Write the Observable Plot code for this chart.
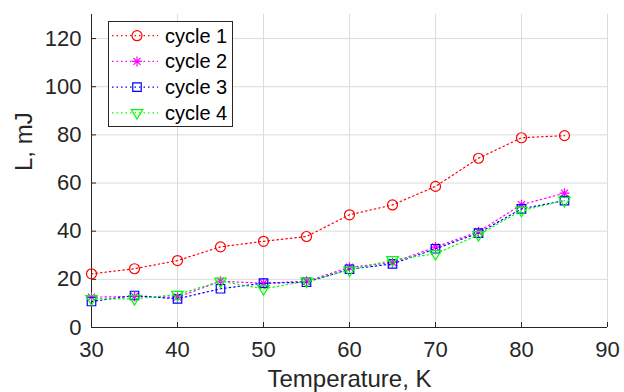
<!DOCTYPE html>
<html><head><meta charset="utf-8">
<script src="https://cdn.jsdelivr.net/npm/d3@7"></script>
<script src="https://cdn.jsdelivr.net/npm/@observablehq/plot@0.6"></script>
<style>
body{margin:0;background:#fff;}
#wrap{position:relative;width:624px;height:392px;font-family:Arial,"Liberation Sans",Helvetica,sans-serif;}
#legend{position:absolute;left:108px;top:21px;}
</style></head><body><div id="wrap"></div>
<script>
const temps = [30,35,40,45,50,55,60,65,70,75,80,85];
const cycle1 = [22.3,24.4,27.8,33.5,35.8,37.8,46.8,50.9,58.6,70.3,78.8,79.7];
const cycle2 = [12.6,12.9,12.6,19.2,18.4,19.2,25.0,27.0,33.4,39.8,51.0,55.8];
const cycle3 = [10.8,13.3,11.9,16.1,18.4,18.8,24.2,26.4,32.7,39.2,49.3,52.7];
const cycle4 = [11.9,11.9,13.7,19.2,16.1,19.2,23.8,28.1,30.6,38.5,48.6,52.7];
const seriesNames = ["cycle 1","cycle 2","cycle 3","cycle 4"];
const seriesColors = ["#ff0000","#ff00ff","#0000ff","#00ff00"];
const xTicks = [30,40,50,60,70,80,90];
const yTicks = [0,20,40,60,80,100,120];
const xLabel = "Temperature, K";
const yLabel = "L, mJ";

const symCircle = {draw(ctx,size){const r=Math.sqrt(size/Math.PI); ctx.moveTo(r,0); ctx.arc(0,0,r,0,2*Math.PI);}};
const symStar = {draw(ctx,size){const r=Math.sqrt(size/Math.PI); const d=r*Math.SQRT1_2;
  ctx.moveTo(-r,0);ctx.lineTo(r,0);ctx.moveTo(0,-r);ctx.lineTo(0,r);
  ctx.moveTo(-d,-d);ctx.lineTo(d,d);ctx.moveTo(-d,d);ctx.lineTo(d,-d);}};
const symSquare = {draw(ctx,size){const r=Math.sqrt(size/Math.PI)*0.85; ctx.rect(-r,-r,2*r,2*r);}};
const symTriDown = {draw(ctx,size){const r=Math.sqrt(size/Math.PI)*1.15;
  ctx.moveTo(-r,-0.55*r); ctx.lineTo(r,-0.55*r); ctx.lineTo(0,1.1*r); ctx.closePath();}};
const symbols = [symCircle, symStar, symSquare, symTriDown];
const values = [cycle1, cycle2, cycle3, cycle4];

const seriesMarks = [];
values.forEach((vals, k) => {
  const rows = temps.map((t, i) => ({t, v: vals[i]}));
  seriesMarks.push(Plot.line(rows, {x: "t", y: "v", stroke: seriesColors[k], strokeWidth: 1.2, strokeDasharray: "1.5,3"}));
  seriesMarks.push(Plot.dot(rows, {x: "t", y: "v", symbol: symbols[k], r: 5, fill: "none", stroke: seriesColors[k], strokeWidth: 1.2}));
});

const plot = Plot.plot({
  width: 624, height: 392,
  marginLeft: 91, marginRight: 17, marginTop: 14, marginBottom: 65,
  style: {fontFamily: "Arial, 'Liberation Sans', Helvetica, sans-serif", fontSize: "22px", color: "#262626", background: "#fff"},
  x: {domain: [30, 90]},
  y: {domain: [0, 130]},
  marks: [
    Plot.gridX(xTicks.slice(1), {stroke: "#dcdcdc", strokeOpacity: 1, strokeWidth: 1}),
    Plot.gridY(yTicks.slice(1), {stroke: "#dcdcdc", strokeOpacity: 1, strokeWidth: 1}),
    Plot.axisX(xTicks, {tickSize: -5, tickPadding: 19, label: null, fontSize: 22}),
    Plot.axisY(yTicks, {tickSize: -5, tickPadding: 15, label: null, fontSize: 22}),
    Plot.ruleX([30], {stroke: "#262626"}),
    Plot.ruleY([0], {stroke: "#262626"}),
    ...seriesMarks,
    Plot.text([xLabel], {text: d => d, frameAnchor: "bottom", dy: 59, fontSize: 24, fill: "#262626"}),
    Plot.text([yLabel], {text: d => d, frameAnchor: "left", dx: -67, rotate: -90, fontSize: 24, fill: "#262626"})
  ]
});
const wrap = document.getElementById("wrap");
wrap.appendChild(plot);

// legend
const lw = 125, lh = 106;
const leg = d3.create("svg").attr("id", "legend").attr("width", lw).attr("height", lh)
  .style("font-family", "Arial, 'Liberation Sans', Helvetica, sans-serif");
leg.append("rect").attr("x", 0.5).attr("y", 0.5).attr("width", lw - 1).attr("height", lh - 1)
  .attr("fill", "#fff").attr("stroke", "#262626").attr("stroke-width", 1);
seriesNames.forEach((name, k) => {
  const cy = 14.7 + k * 25.7;
  leg.append("line").attr("x1", 4).attr("x2", 50).attr("y1", cy).attr("y2", cy)
    .attr("stroke", seriesColors[k]).attr("stroke-width", 1.2).attr("stroke-dasharray", "1.5,3");
  leg.append("path").attr("d", d3.symbol(symbols[k], Math.PI * 25)())
    .attr("transform", `translate(29,${cy})`).attr("fill", "none")
    .attr("stroke", seriesColors[k]).attr("stroke-width", 1.2);
  leg.append("text").attr("x", 57).attr("y", cy).attr("dy", "0.35em")
    .attr("font-size", 20).attr("fill", "#000").text(name);
});
wrap.appendChild(leg.node());
</script></body></html>
